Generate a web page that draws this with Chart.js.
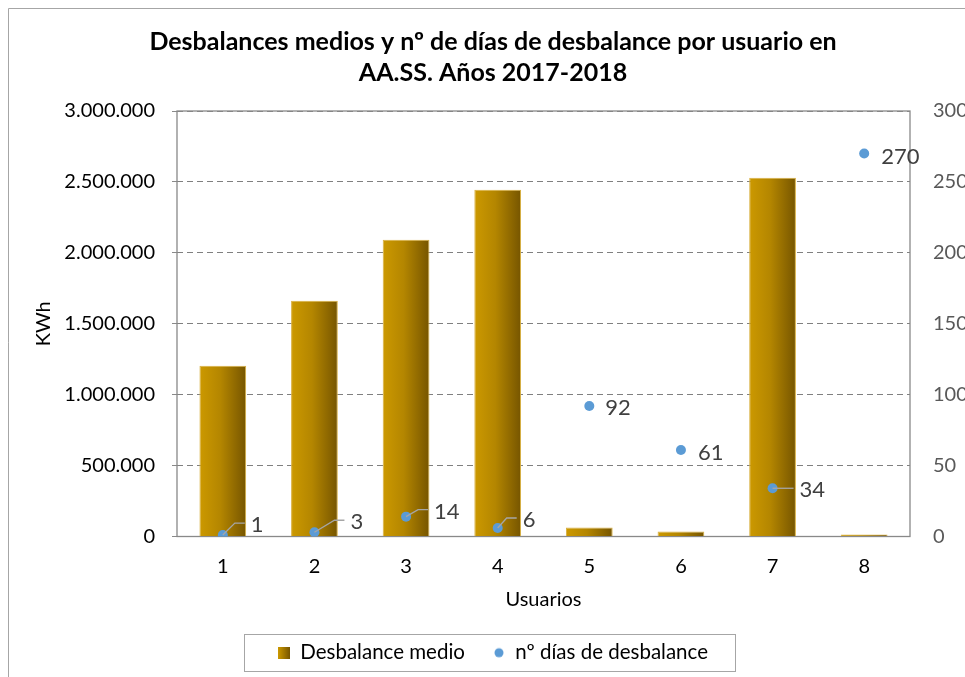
<!DOCTYPE html>
<html>
<head>
<meta charset="utf-8">
<title>Desbalances medios</title>
<script src="https://cdn.jsdelivr.net/npm/chart.js@4.4.1/dist/chart.umd.min.js"></script>
<style>
html, body { margin: 0; padding: 0; background: #fff; overflow: hidden; }
#wrap { width: 986px; height: 677px; }
</style>
</head>
<body>
<div id="wrap"><canvas id="myChart" width="986" height="677"></canvas></div>
<script>
// data
const usuarios = ["1", "2", "3", "4", "5", "6", "7", "8"];
const desbalanceMedio = [1204000, 1662000, 2092000, 2444000, 63000, 35000, 2530000, 14000];
const diasDesbalance = [1, 3, 14, 6, 92, 61, 34, 270];
const kwhMax = 3000000, kwhStep = 500000;
const diasMax = 300, diasStep = 50;

// label placement for the point labels (pixels from the point)
const labelNudge = [[28, -10], [36, -10], [28, -5], [25, -8], [16, 2], [17, 3], [27, 2], [17, 3]];
const withLeader = [true, true, true, true, false, false, true, false];

Chart.defaults.font.family = "Lato";
Chart.defaults.color = "#000";

function miles(v) {
    return String(v).replace(/\B(?=(\d{3})+(?!\d))/g, ".");
}

function barGradient(ctx) {
    const chart = ctx.chart;
    if (ctx.type !== "data" || !chart.chartArea) return "#b08000";
    const xs = chart.scales.x;
    const x = xs.getPixelForValue(ctx.dataIndex);
    const w = (xs.width / usuarios.length) * 0.51;
    const g = chart.ctx.createLinearGradient(x - w / 2, 0, x + w / 2, 0);
    g.addColorStop(0, "#cc9900");
    g.addColorStop(0.45, "#b48600");
    g.addColorStop(1, "#765500");
    return g;
}

// legend swatches
const swatchBar = document.createElement("canvas");
swatchBar.width = 12; swatchBar.height = 12;
let sc = swatchBar.getContext("2d");
let sg = sc.createLinearGradient(0, 0, 12, 0);
sg.addColorStop(0, "#cc9900");
sg.addColorStop(1, "#765500");
sc.fillStyle = sg;
sc.fillRect(0, 0, 12, 12);

const swatchDot = document.createElement("canvas");
swatchDot.width = 12; swatchDot.height = 12;
sc = swatchDot.getContext("2d");
sc.fillStyle = "#5b9bd5";
sc.beginPath();
sc.arc(6, 6, 4.5, 0, Math.PI * 2);
sc.fill();

const marco = {
    id: "marco",
    beforeDraw(chart) {
        const c = chart.ctx;
        c.save();
        c.fillStyle = "#fff";
        c.fillRect(0, 0, chart.width, chart.height);
        c.strokeStyle = "#a6a6a6";
        c.lineWidth = 1;
        c.beginPath();
        c.moveTo(8.5, chart.height);
        c.lineTo(8.5, 8.5);
        c.lineTo(chart.width - 8.5, 8.5);
        c.lineTo(chart.width - 8.5, chart.height);
        c.stroke();
        c.restore();
    },
    beforeDatasetsDraw(chart) {
        const a = chart.chartArea;
        const c = chart.ctx;
        c.save();
        c.strokeStyle = "#898989";
        c.lineWidth = 1.3;
        c.strokeRect(a.left, a.top, a.right - a.left, a.bottom - a.top);
        c.restore();
    },
    afterDatasetsDraw(chart) {
        const c = chart.ctx;
        const meta = chart.getDatasetMeta(1);
        c.save();
        c.font = "22px Lato";
        c.fillStyle = "#404040";
        c.textBaseline = "middle";
        c.textAlign = "left";
        meta.data.forEach((p, i) => {
            const tx = p.x + labelNudge[i][0];
            const ty = p.y + labelNudge[i][1];
            if (withLeader[i]) {
                c.strokeStyle = "#a6a6a6";
                c.lineWidth = 1.3;
                c.beginPath();
                c.moveTo(p.x, p.y);
                c.lineTo(tx - 16, ty - 2);
                c.lineTo(tx - 6, ty - 2);
                c.stroke();
            }
            c.fillText(String(diasDesbalance[i]), tx, ty);
        });
        c.restore();
    },
    afterDraw(chart) {
        const hb = chart.legend.legendHitBoxes;
        if (!hb || !hb.length) return;
        const last = hb[hb.length - 1];
        const left = hb[0].left - 34;
        const right = last.left + last.width + 27;
        const cy = hb[0].top + hb[0].height / 2;
        const c = chart.ctx;
        c.save();
        c.strokeStyle = "#a6a6a6";
        c.lineWidth = 1;
        c.strokeRect(Math.round(left) + 0.5, Math.round(cy - 18.5) + 0.5, Math.round(right - left), 37);
        c.restore();
    }
};

new Chart("myChart", {
    data: {
        labels: usuarios,
        datasets: [{
            type: "bar",
            label: "Desbalance medio",
            data: desbalanceMedio,
            yAxisID: "y",
            order: 1,
            backgroundColor: barGradient,
            borderColor: "#d9b040",
            borderWidth: 1,
            categoryPercentage: 1,
            barPercentage: 0.51
        }, {
            type: "line",
            label: "nº días de desbalance",
            data: diasDesbalance,
            yAxisID: "y1",
            order: 0,
            showLine: false,
            pointRadius: 5,
            pointHoverRadius: 5,
            pointBorderWidth: 0,
            backgroundColor: "#5b9bd5",
            borderColor: "#5b9bd5"
        }]
    },
    options: {
        responsive: false,
        animation: false,
        layout: { padding: { left: 0, right: 0, top: 0, bottom: 4 } },
        plugins: {
            tooltip: { enabled: false },
            title: {
                display: true,
                text: ["Desbalances medios y nº de días de desbalance por usuario en", "AA.SS. Años 2017-2018"],
                font: { size: 25, weight: "bold", lineHeight: 1.24 },
                color: "#000",
                padding: { top: 26, bottom: 23 }
            },
            legend: {
                position: "bottom",
                labels: {
                    usePointStyle: true,
                    boxWidth: 12,
                    boxHeight: 12,
                    padding: 28,
                    font: { size: 20.5 },
                    color: "#000",
                    sort: (a, b) => a.datasetIndex - b.datasetIndex,
                    generateLabels(chart) {
                        const items = Chart.defaults.plugins.legend.labels.generateLabels(chart);
                        items.forEach(it => {
                            it.pointStyle = it.datasetIndex === 0 ? swatchBar : swatchDot;
                            it.lineWidth = 0;
                        });
                        return items;
                    }
                }
            }
        },
        scales: {
            x: {
                grid: { display: false },
                border: { display: false },
                ticks: { padding: 10, font: { size: 20 }, color: "#000" },
                title: { display: true, text: "Usuarios", font: { size: 20 }, color: "#000", padding: { top: 0, bottom: 3 } },
                afterFit(s) { s.height = 78; }
            },
            y: {
                position: "left",
                min: 0,
                max: kwhMax,
                ticks: { stepSize: kwhStep, padding: 17, font: { size: 20 }, color: "#000", callback: v => miles(v) },
                grid: { color: "#808080", lineWidth: 1, tickLength: 5, tickColor: "#898989", drawTicks: true },
                border: { display: false, dash: [6, 4] },
                title: { display: true, text: "KWh", font: { size: 20 }, color: "#000", padding: { top: 32, bottom: 0 } },
                afterFit(s) { s.width = 177; }
            },
            y1: {
                position: "right",
                min: 0,
                max: diasMax,
                ticks: { stepSize: diasStep, padding: 23, font: { size: 20 }, color: "#595959" },
                grid: { display: false, drawTicks: false },
                border: { display: false },
                afterFit(s) { s.width = 76; }
            }
        }
    },
    plugins: [marco]
});
</script>
</body>
</html>
